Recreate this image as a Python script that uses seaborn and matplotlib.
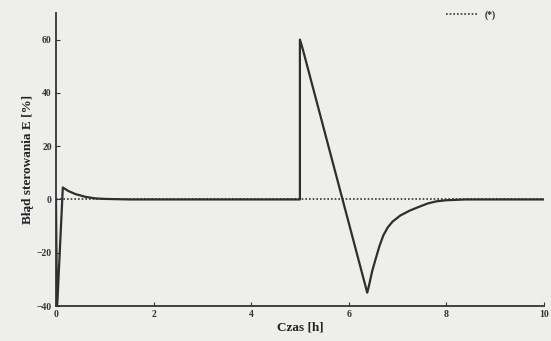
import pandas as pd
import matplotlib
matplotlib.use("Agg")
import matplotlib.pyplot as plt
import seaborn as sns

# --- Data ---
t_err = [0.0, 0.02, 0.03, 0.14, 0.25, 0.4, 0.6, 0.8, 1.0, 1.5, 5.0, 5.0, 5.05,
         6.38, 6.42, 6.48, 6.55, 6.63, 6.71, 6.8, 6.9, 7.06, 7.25, 7.41, 7.62,
         7.8, 8.0, 8.4, 10.0]
e_err = [0.0, -40.0, -38.0, 4.5, 3.2, 2.0, 1.0, 0.4, 0.2, 0.0, 0.0, 60.0, 57.0,
         -35.0, -32.0, -27.0, -22.5, -17.5, -13.5, -10.5, -8.3, -6.0, -4.2, -3.0, -1.5,
         -0.7, -0.3, 0.0, 0.0]
t_ref = [0.0, 10.0]
e_ref = [0.0, 0.0]
ref_label = "(*)"

x_ticks = [0, 2, 4, 6, 8, 10]
y_ticks = [-40, -20, 0, 20, 40, 60]

df_err = pd.DataFrame({"t": t_err, "e": e_err})
df_ref = pd.DataFrame({"t": t_ref, "e": e_ref})

sns.set_style("ticks")
plt.rcParams["font.family"] = ["Liberation Serif", "DejaVu Serif"]

bg = "#eeeeec"
fig = plt.figure(figsize=(5.51, 3.41), dpi=100, facecolor=bg)
ax = fig.add_axes([0.1016, 0.1026, 0.8854, 0.8594], facecolor=bg)

sns.lineplot(data=df_ref, x="t", y="e", ax=ax, color="#333333", lw=1.2,
             linestyle=(0, (1, 1.2)), label=ref_label, sort=False, estimator=None)
sns.lineplot(data=df_err, x="t", y="e", ax=ax, color="#2e2e2e", lw=1.6,
             sort=False, estimator=None)

ax.set_xlim(0, 10)
ax.set_ylim(-40, 70)
ax.set_xticks(x_ticks)
ax.set_yticks(y_ticks)
ax.tick_params(direction="in", length=3, width=0.8, labelsize=7, colors="#333333", pad=3)
for lbl in ax.get_xticklabels() + ax.get_yticklabels():
    lbl.set_fontweight("bold")
for s in ["top", "right"]:
    ax.spines[s].set_visible(False)
for s in ["left", "bottom"]:
    ax.spines[s].set_color("#333333")
    ax.spines[s].set_linewidth(1.3)

ax.set_xlabel("Czas [h]", fontsize=9.5, color="#222222", labelpad=2, fontweight="bold")
ax.set_ylabel("Błąd sterowania E [%]", fontsize=9.5, color="#222222", labelpad=2,
              fontweight="bold")

handles, labels = ax.get_legend_handles_labels()
leg = ax.legend(handles[:1], labels[:1], loc="upper right", bbox_to_anchor=(0.92, 1.04),
                frameon=False, fontsize=7, handlelength=3.2)
for txt in leg.get_texts():
    txt.set_fontweight("bold")

fig.savefig("out.png", dpi=100, facecolor=bg)
